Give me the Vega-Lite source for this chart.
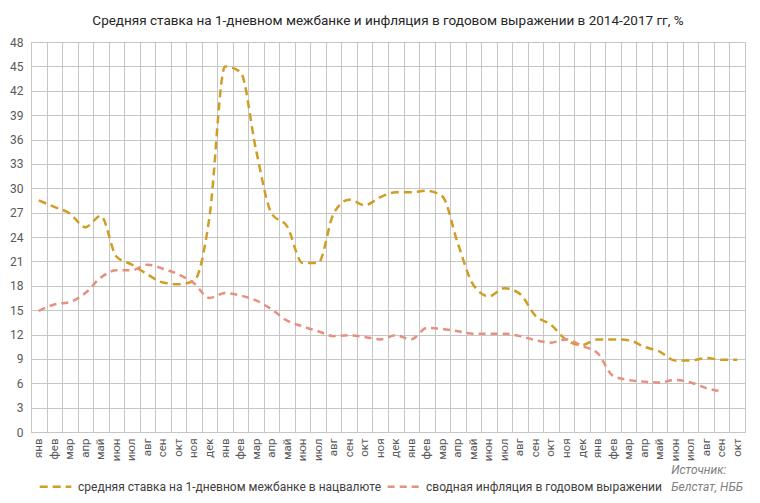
{
  "$schema": "https://vega.github.io/schema/vega-lite/v6.json",
  "width": 714,
  "height": 390,
  "autosize": {"type": "none"},
  "padding": {"left": 31, "top": 42, "right": 15, "bottom": 71},
  "background": "white",
  "config": {
    "font": "Roboto",
    "view": {"stroke": "#c6c6c6"}
  },
  "title": {
    "text": "Средняя ставка на 1-дневном межбанке и инфляция в годовом выражении в 2014-2017 гг, %",
    "fontSize": 13.5,
    "fontWeight": "normal",
    "color": "#262626",
    "offset": 9
  },
  "datasets": {
    "series": [
      {"m": "янв 2014", "s": "средняя ставка на 1-дневном межбанке в нацвалюте", "v": 28.5},
      {"m": "фев 2014", "s": "средняя ставка на 1-дневном межбанке в нацвалюте", "v": 27.7},
      {"m": "мар 2014", "s": "средняя ставка на 1-дневном межбанке в нацвалюте", "v": 26.9},
      {"m": "апр 2014", "s": "средняя ставка на 1-дневном межбанке в нацвалюте", "v": 25.2},
      {"m": "май 2014", "s": "средняя ставка на 1-дневном межбанке в нацвалюте", "v": 26.6},
      {"m": "июн 2014", "s": "средняя ставка на 1-дневном межбанке в нацвалюте", "v": 21.6},
      {"m": "июл 2014", "s": "средняя ставка на 1-дневном межбанке в нацвалюте", "v": 20.6},
      {"m": "авг 2014", "s": "средняя ставка на 1-дневном межбанке в нацвалюте", "v": 19.4},
      {"m": "сен 2014", "s": "средняя ставка на 1-дневном межбанке в нацвалюте", "v": 18.4},
      {"m": "окт 2014", "s": "средняя ставка на 1-дневном межбанке в нацвалюте", "v": 18.2},
      {"m": "ноя 2014", "s": "средняя ставка на 1-дневном межбанке в нацвалюте", "v": 18.6},
      {"m": "дек 2014", "s": "средняя ставка на 1-дневном межбанке в нацвалюте", "v": 26.5},
      {"m": "янв 2015", "s": "средняя ставка на 1-дневном межбанке в нацвалюте", "v": 45.0},
      {"m": "фев 2015", "s": "средняя ставка на 1-дневном межбанке в нацвалюте", "v": 44.3},
      {"m": "мар 2015", "s": "средняя ставка на 1-дневном межбанке в нацвалюте", "v": 34.7},
      {"m": "апр 2015", "s": "средняя ставка на 1-дневном межбанке в нацвалюте", "v": 26.9},
      {"m": "май 2015", "s": "средняя ставка на 1-дневном межбанке в нацвалюте", "v": 25.3},
      {"m": "июн 2015", "s": "средняя ставка на 1-дневном межбанке в нацвалюте", "v": 20.8},
      {"m": "июл 2015", "s": "средняя ставка на 1-дневном межбанке в нацвалюте", "v": 20.8},
      {"m": "авг 2015", "s": "средняя ставка на 1-дневном межбанке в нацвалюте", "v": 26.9},
      {"m": "сен 2015", "s": "средняя ставка на 1-дневном межбанке в нацвалюте", "v": 28.6},
      {"m": "окт 2015", "s": "средняя ставка на 1-дневном межбанке в нацвалюте", "v": 27.9},
      {"m": "ноя 2015", "s": "средняя ставка на 1-дневном межбанке в нацвалюте", "v": 28.9},
      {"m": "дек 2015", "s": "средняя ставка на 1-дневном межбанке в нацвалюте", "v": 29.5},
      {"m": "янв 2016", "s": "средняя ставка на 1-дневном межбанке в нацвалюте", "v": 29.5},
      {"m": "фев 2016", "s": "средняя ставка на 1-дневном межбанке в нацвалюте", "v": 29.7},
      {"m": "мар 2016", "s": "средняя ставка на 1-дневном межбанке в нацвалюте", "v": 29.0},
      {"m": "апр 2016", "s": "средняя ставка на 1-дневном межбанке в нацвалюте", "v": 23.2},
      {"m": "май 2016", "s": "средняя ставка на 1-дневном межбанке в нацвалюте", "v": 18.1},
      {"m": "июн 2016", "s": "средняя ставка на 1-дневном межбанке в нацвалюте", "v": 16.7},
      {"m": "июл 2016", "s": "средняя ставка на 1-дневном межбанке в нацвалюте", "v": 17.7},
      {"m": "авг 2016", "s": "средняя ставка на 1-дневном межбанке в нацвалюте", "v": 17.0},
      {"m": "сен 2016", "s": "средняя ставка на 1-дневном межбанке в нацвалюте", "v": 14.3},
      {"m": "окт 2016", "s": "средняя ставка на 1-дневном межбанке в нацвалюте", "v": 13.2},
      {"m": "ноя 2016", "s": "средняя ставка на 1-дневном межбанке в нацвалюте", "v": 11.3},
      {"m": "дек 2016", "s": "средняя ставка на 1-дневном межбанке в нацвалюте", "v": 10.7},
      {"m": "янв 2017", "s": "средняя ставка на 1-дневном межбанке в нацвалюте", "v": 11.4},
      {"m": "фев 2017", "s": "средняя ставка на 1-дневном межбанке в нацвалюте", "v": 11.4},
      {"m": "мар 2017", "s": "средняя ставка на 1-дневном межбанке в нацвалюте", "v": 11.3},
      {"m": "апр 2017", "s": "средняя ставка на 1-дневном межбанке в нацвалюте", "v": 10.5},
      {"m": "май 2017", "s": "средняя ставка на 1-дневном межбанке в нацвалюте", "v": 9.9},
      {"m": "июн 2017", "s": "средняя ставка на 1-дневном межбанке в нацвалюте", "v": 8.8},
      {"m": "июл 2017", "s": "средняя ставка на 1-дневном межбанке в нацвалюте", "v": 8.8},
      {"m": "авг 2017", "s": "средняя ставка на 1-дневном межбанке в нацвалюте", "v": 9.1},
      {"m": "сен 2017", "s": "средняя ставка на 1-дневном межбанке в нацвалюте", "v": 8.9},
      {"m": "окт 2017", "s": "средняя ставка на 1-дневном межбанке в нацвалюте", "v": 8.9},
      {"m": "янв 2014", "s": "сводная инфляция в годовом выражении", "v": 14.9},
      {"m": "фев 2014", "s": "сводная инфляция в годовом выражении", "v": 15.7},
      {"m": "мар 2014", "s": "сводная инфляция в годовом выражении", "v": 16.0},
      {"m": "апр 2014", "s": "сводная инфляция в годовом выражении", "v": 17.1},
      {"m": "май 2014", "s": "сводная инфляция в годовом выражении", "v": 19.0},
      {"m": "июн 2014", "s": "сводная инфляция в годовом выражении", "v": 19.9},
      {"m": "июл 2014", "s": "сводная инфляция в годовом выражении", "v": 19.9},
      {"m": "авг 2014", "s": "сводная инфляция в годовом выражении", "v": 20.6},
      {"m": "сен 2014", "s": "сводная инфляция в годовом выражении", "v": 20.1},
      {"m": "окт 2014", "s": "сводная инфляция в годовом выражении", "v": 19.4},
      {"m": "ноя 2014", "s": "сводная инфляция в годовом выражении", "v": 18.3},
      {"m": "дек 2014", "s": "сводная инфляция в годовом выражении", "v": 16.5},
      {"m": "янв 2015", "s": "сводная инфляция в годовом выражении", "v": 17.1},
      {"m": "фев 2015", "s": "сводная инфляция в годовом выражении", "v": 16.8},
      {"m": "мар 2015", "s": "сводная инфляция в годовом выражении", "v": 16.2},
      {"m": "апр 2015", "s": "сводная инфляция в годовом выражении", "v": 15.1},
      {"m": "май 2015", "s": "сводная инфляция в годовом выражении", "v": 13.7},
      {"m": "июн 2015", "s": "сводная инфляция в годовом выражении", "v": 13.0},
      {"m": "июл 2015", "s": "сводная инфляция в годовом выражении", "v": 12.4},
      {"m": "авг 2015", "s": "сводная инфляция в годовом выражении", "v": 11.8},
      {"m": "сен 2015", "s": "сводная инфляция в годовом выражении", "v": 11.9},
      {"m": "окт 2015", "s": "сводная инфляция в годовом выражении", "v": 11.7},
      {"m": "ноя 2015", "s": "сводная инфляция в годовом выражении", "v": 11.4},
      {"m": "дек 2015", "s": "сводная инфляция в годовом выражении", "v": 11.9},
      {"m": "янв 2016", "s": "сводная инфляция в годовом выражении", "v": 11.4},
      {"m": "фев 2016", "s": "сводная инфляция в годовом выражении", "v": 12.8},
      {"m": "мар 2016", "s": "сводная инфляция в годовом выражении", "v": 12.7},
      {"m": "апр 2016", "s": "сводная инфляция в годовом выражении", "v": 12.4},
      {"m": "май 2016", "s": "сводная инфляция в годовом выражении", "v": 12.1},
      {"m": "июн 2016", "s": "сводная инфляция в годовом выражении", "v": 12.1},
      {"m": "июл 2016", "s": "сводная инфляция в годовом выражении", "v": 12.1},
      {"m": "авг 2016", "s": "сводная инфляция в годовом выражении", "v": 11.8},
      {"m": "сен 2016", "s": "сводная инфляция в годовом выражении", "v": 11.3},
      {"m": "окт 2016", "s": "сводная инфляция в годовом выражении", "v": 11.0},
      {"m": "ноя 2016", "s": "сводная инфляция в годовом выражении", "v": 11.4},
      {"m": "дек 2016", "s": "сводная инфляция в годовом выражении", "v": 10.6},
      {"m": "янв 2017", "s": "сводная инфляция в годовом выражении", "v": 9.7},
      {"m": "фев 2017", "s": "сводная инфляция в годовом выражении", "v": 6.9},
      {"m": "мар 2017", "s": "сводная инфляция в годовом выражении", "v": 6.4},
      {"m": "апр 2017", "s": "сводная инфляция в годовом выражении", "v": 6.2},
      {"m": "май 2017", "s": "сводная инфляция в годовом выражении", "v": 6.1},
      {"m": "июн 2017", "s": "сводная инфляция в годовом выражении", "v": 6.4},
      {"m": "июл 2017", "s": "сводная инфляция в годовом выражении", "v": 6.1},
      {"m": "авг 2017", "s": "сводная инфляция в годовом выражении", "v": 5.4},
      {"m": "сен 2017", "s": "сводная инфляция в годовом выражении", "v": 5.0}
    ],
    "note": [
      {"m": "июн 2017", "v": 0, "txt": ["Источник:", "Белстат, НББ"]}
    ]
  },
  "layer": [
    {
      "data": {"name": "series"},
      "mark": {"type": "line", "interpolate": "monotone", "strokeWidth": 2.5},
      "encoding": {
        "x": {
          "field": "m",
          "type": "ordinal",
          "sort": null,
          "bandPosition": 0.5,
          "scale": {"type": "band", "paddingInner": 0, "paddingOuter": 0},
          "axis": {
            "title": null,
            "labelAngle": -90,
            "labelAlign": "right",
            "labelBaseline": "middle",
            "labelExpr": "split(datum.label, ' ')[0]",
            "labelFontSize": 11.5,
            "labelColor": "#595959",
            "labelPadding": 6,
            "ticks": false,
            "tickBand": "extent",
            "domainColor": "#c6c6c6",
            "grid": true,
            "gridColor": "#c6c6c6",
            "labelOverlap": false
          }
        },
        "y": {
          "field": "v",
          "type": "quantitative",
          "scale": {"domain": [0, 48], "nice": false},
          "axis": {
            "title": null,
            "values": [0, 3, 6, 9, 12, 15, 18, 21, 24, 27, 30, 33, 36, 39, 42, 45, 48],
            "tickCount": 20,
            "labelOverlap": false,
            "labelFontSize": 12,
            "labelColor": "#595959",
            "labelPadding": 8,
            "ticks": false,
            "domainColor": "#c6c6c6",
            "gridColor": "#c6c6c6"
          }
        },
        "color": {
          "field": "s",
          "type": "nominal",
          "sort": null,
          "scale": {
            "domain": ["средняя ставка на 1-дневном межбанке в нацвалюте", "сводная инфляция в годовом выражении"],
            "range": ["#D09E26", "#E6907E"]
          },
          "legend": {
            "title": null,
            "orient": "none",
            "direction": "horizontal",
            "legendX": 7,
            "legendY": 427,
            "symbolType": "stroke",
            "symbolSize": 1000,
            "symbolStrokeWidth": 2.5,
            "symbolDash": [7, 5],
            "labelFontSize": 12,
            "labelOffset": 5,
            "labelColor": "#404040",
            "labelLimit": 400,
            "columnPadding": 0
          }
        },
        "strokeDash": {
          "field": "s",
          "type": "nominal",
          "sort": null,
          "scale": {
            "domain": ["средняя ставка на 1-дневном межбанке в нацвалюте", "сводная инфляция в годовом выражении"],
            "range": [[8, 5], [7, 5]]
          },
          "legend": null
        }
      }
    },
    {
      "data": {"name": "note"},
      "mark": {
        "type": "text",
        "align": "left",
        "baseline": "top",
        "dx": -4,
        "dy": 33,
        "fontSize": 12,
        "fontStyle": "italic",
        "color": "#808080",
        "lineHeight": 17
      },
      "encoding": {
        "x": {"field": "m", "type": "ordinal", "sort": null, "bandPosition": 0.5},
        "y": {"field": "v", "type": "quantitative"},
        "text": {"field": "txt"}
      }
    }
  ]
}
